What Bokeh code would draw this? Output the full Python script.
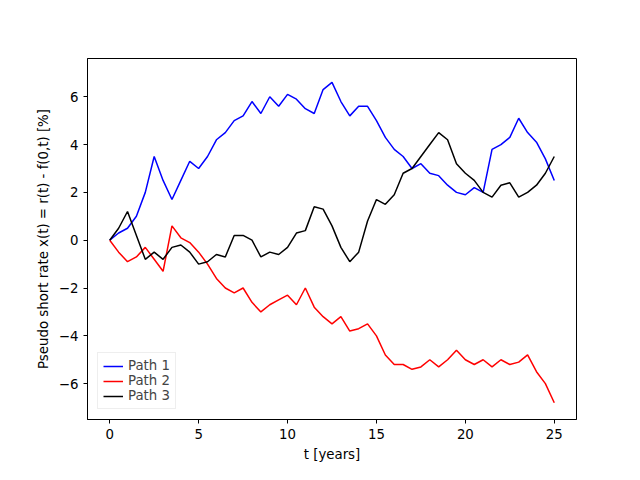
from bokeh.plotting import figure
from bokeh.models import Legend, LegendItem, FixedTicker
from bokeh.embed import file_html
from bokeh.resources import INLINE

t = [i * 0.5 for i in range(51)]
path1 = [0, 0.3, 0.5, 1.0, 2.0, 3.5, 2.5, 1.7, 2.5, 3.3, 3.0, 3.5, 4.2, 4.5, 5.0, 5.2, 5.8, 5.3, 6.0, 5.6,
         6.1, 5.9, 5.5, 5.3, 6.3, 6.6, 5.8, 5.2, 5.6, 5.6, 5.0, 4.3, 3.8, 3.5, 3.0, 3.2, 2.8, 2.7, 2.3, 2.0,
         1.9, 2.2, 2.0, 3.8, 4.0, 4.3, 5.1, 4.5, 4.1, 3.4, 2.5]
path2 = [0, -0.5, -0.9, -0.7, -0.3, -0.8, -1.3, 0.6, 0.1, -0.1, -0.5, -1.0, -1.6, -2.0, -2.2, -2.0, -2.6, -3.0,
         -2.7, -2.5, -2.3, -2.7, -2.0, -2.8, -3.2, -3.5, -3.2, -3.8, -3.7, -3.5, -4.0, -4.8, -5.2, -5.2, -5.4,
         -5.3, -5.0, -5.3, -5.0, -4.6, -5.0, -5.2, -5.0, -5.3, -5.0, -5.2, -5.1, -4.8, -5.5, -6.0, -6.8]
path3 = [0, 0.5, 1.2, 0.2, -0.8, -0.5, -0.8, -0.3, -0.2, -0.5, -1.0, -0.9, -0.6, -0.7, 0.2, 0.2, 0.0, -0.7,
         -0.5, -0.6, -0.3, 0.3, 0.4, 1.4, 1.3, 0.6, -0.3, -0.9, -0.5, 0.8, 1.7, 1.5, 1.9, 2.8, 3.0, 3.5, 4.0,
         4.5, 4.2, 3.2, 2.8, 2.5, 2.0, 1.8, 2.3, 2.4, 1.8, 2.0, 2.3, 2.8, 3.5]

p = figure(width=624, height=464, output_backend="svg", toolbar_location=None,
           x_range=(-1.25, 26.25), y_range=(-7.5, 7.6),
           min_border_left=87, min_border_right=48, min_border_top=58, min_border_bottom=36)
p.xgrid.visible = False
p.ygrid.visible = False
p.outline_line_color = "black"
p.xaxis.ticker = FixedTicker(ticks=[0, 5, 10, 15, 20, 25])
p.yaxis.ticker = FixedTicker(ticks=[-6, -4, -2, 0, 2, 4, 6])
p.xaxis.axis_label = "t [years]"
p.yaxis.axis_label = "Pseudo short rate x(t) = r(t) - f(0,t) [%]"
for ax in (p.xaxis[0], p.yaxis[0]):
    ax.axis_label_text_font_style = "normal"
    ax.axis_label_text_font = "DejaVu Sans"
    ax.axis_label_text_font_size = "10pt"
    ax.axis_label_text_color = "black"
    ax.major_label_text_font = "DejaVu Sans"
    ax.major_label_text_font_size = "10pt"
    ax.major_label_text_color = "black"
    ax.axis_line_color = "black"
    ax.major_tick_line_color = "black"
    ax.minor_tick_line_color = None
    ax.major_tick_in = 0
    ax.major_tick_out = 4

r1 = p.line(t, path1, color="blue", line_width=1.5)
r2 = p.line(t, path2, color="red", line_width=1.5)
r3 = p.line(t, path3, color="black", line_width=1.5)
legend = Legend(items=[LegendItem(label="Path 1", renderers=[r1]),
                       LegendItem(label="Path 2", renderers=[r2]),
                       LegendItem(label="Path 3", renderers=[r3])],
                location="bottom_left", label_text_font="DejaVu Sans", label_text_font_size="10pt",
                border_line_color="#dddddd", spacing=0, padding=5, label_height=14, glyph_height=14)
p.add_layout(legend)

open("out.html", "w").write(file_html(p, INLINE))
